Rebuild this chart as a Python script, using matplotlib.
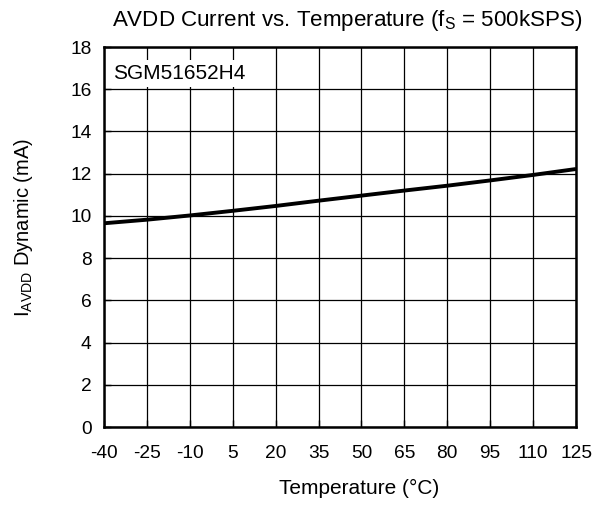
import numpy as np
import matplotlib.pyplot as plt

plt.rcParams['font.family'] = ['Liberation Sans', 'DejaVu Sans']
plt.rcParams['axes.unicode_minus'] = False

temps = [-40, -25, -10, 5, 20, 35, 50, 65, 80, 95, 110, 125]
current = [9.65, 9.82, 10.02, 10.24, 10.47, 10.72, 10.96, 11.2, 11.43, 11.68, 11.94, 12.22]

xticks = list(range(-40, 126, 15))
yticks = list(range(0, 19, 2))

fig = plt.figure(figsize=(6.05, 5.05), dpi=100)
ax = fig.add_axes([104/605, 78/505, 472/605, 380/505])

ax.plot(temps, current, color='black', lw=2.8, solid_capstyle='butt', zorder=3)

ax.set_xlim(-40, 125)
ax.set_ylim(0, 18)
ax.set_xticks(xticks)
ax.set_yticks(yticks)
ax.grid(True, color='black', lw=0.9)
ax.tick_params(direction='in', length=5, width=1, labelsize=13.8, colors='black')
ax.tick_params(axis='x', pad=13)
ax.tick_params(axis='y', pad=9)
for s in ax.spines.values():
    s.set_linewidth(1.8)

ax.set_xlabel('Temperature (°C)', fontsize=15)
ax.xaxis.set_label_coords(0.54, -0.137)
ax.set_ylabel(r'I$_{\mathregular{AVDD}}$ Dynamic (mA)', fontsize=14.5)
ax.yaxis.set_label_coords(-0.146, 0.524)
ax.set_title(r'AVDD Current vs. Temperature (f$_{\mathregular{S}}$ = 500kSPS)', fontsize=16.1,
             x=0.515, pad=15)

ax.text(0.02, 0.955, 'SGM51652H4', transform=ax.transAxes, fontsize=15, va='top', ha='left',
        bbox=dict(facecolor='white', edgecolor='none', pad=3), zorder=4)

fig.savefig('out.png', dpi=100)
